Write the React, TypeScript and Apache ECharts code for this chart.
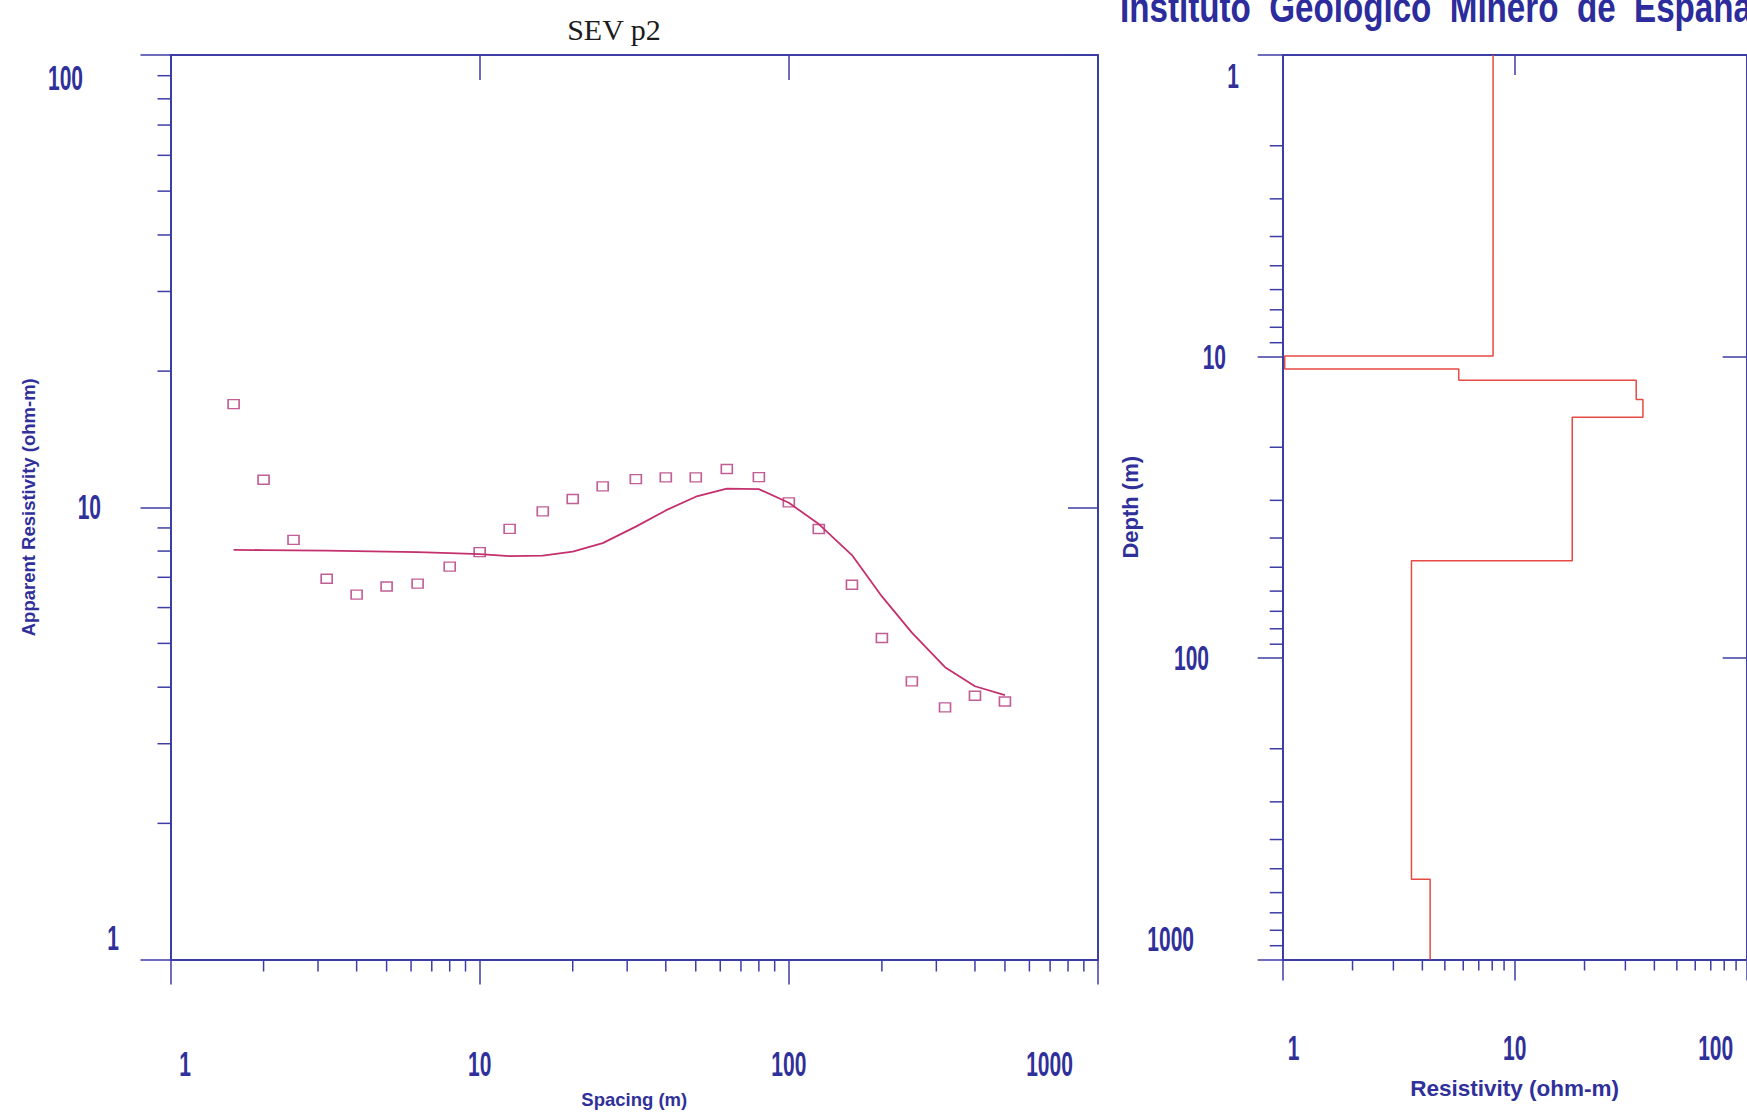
import React, { useEffect, useRef } from 'react';
import * as echarts from 'echarts';

// ---- data ----
const SPACING = [1.6, 2, 2.5, 3.2, 4, 5, 6.3, 8, 10, 12.5, 16, 20, 25, 32, 40, 50, 63, 80, 100, 125, 160, 200, 250, 320, 400, 500];
const OBSERVED = [16.9, 11.5, 8.47, 6.95, 6.41, 6.68, 6.78, 7.39, 7.96, 8.96, 9.79, 10.43, 11.12, 11.54, 11.64, 11.64, 12.15, 11.66, 10.25, 8.95, 6.74, 5.14, 4.12, 3.61, 3.83, 3.72];
const MODEL = [8.05, 8.04, 8.03, 8.02, 8.0, 7.98, 7.96, 7.92, 7.88, 7.8, 7.82, 7.98, 8.33, 9.06, 9.84, 10.55, 10.99, 10.97, 10.23, 9.18, 7.84, 6.35, 5.28, 4.43, 4.02, 3.84];

const LAYER_RES = [8.07, 1.02, 5.74, 33.4, 35.7, 17.7, 3.59, 4.32];
const LAYER_BOTTOM = [9.96, 11.0, 12.0, 13.9, 15.9, 47.6, 542];

const MINOR_1_10 = [2, 3, 4, 5, 6, 7, 8, 9];
const MINOR_10_100 = [20, 30, 40, 50, 60, 70, 80, 90];
const MINOR_100_1000 = [200, 300, 400, 500, 600, 700, 800, 900];

const SEV_X_RANGE = [1, 1000];
const SEV_Y_RANGE = [1, 100];
const RES_X_RANGE = [1, 100];
const DEPTH_RANGE = [1, 1000];

const SEV_X_LABELS = [1, 10, 100, 1000];
const SEV_Y_LABELS = [1, 10, 100];
const RES_X_LABELS = [1, 10, 100];
const DEPTH_LABELS = [1, 10, 100, 1000];

const TITLE = 'SEV p2';
const INSTITUTE = 'Instituto  Geologico  Minero  de  España';

// ---- styles ----
const AXIS = '#3d3da6';
const LABEL = '#30309a';
const SANS = "'Liberation Sans', Arial, sans-serif";
const SERIF = "'Liberation Serif', 'Times New Roman', serif";
const SQUARE = '#b3367c';
const CURVE = '#c4306e';
const STEP = '#e54a44';
const TICK_FS = 35;
const TICK_SCALE = 0.6;

// label placement tweaks (pixels relative to each tick)
const SEV_X_DX = [14.5, 0, 0, -48.5];
const SEV_X_DY = 104.5;
const SEV_Y_DX = [-51.5, -69.5, -87.5];
const SEV_Y_DY = [-21.5, 0, 23];
const RES_X_DX = [11, 0, -31];
const RES_X_DY = 88;
const DEPTH_DX = [-43.7, -56.7, -73.7, -88.7];
const DEPTH_DY = [21, 0, 0, -20.5];

function axisLineStyle() {
  return { show: true, onZero: false, lineStyle: { color: AXIS, width: 2 } };
}

function minorTickSeries(values: number[], xi: number, yi: number, dir: 'x' | 'y', len: number, otherVal: number) {
  return {
    type: 'custom',
    xAxisIndex: xi,
    yAxisIndex: yi,
    silent: true,
    clip: false,
    data: values.map((v) => (dir === 'x' ? [v, otherVal] : [otherVal, v])),
    renderItem: (params: any, api: any) => {
      const cs = params.coordSys;
      const p = api.coord([api.value(0), api.value(1)]);
      if (dir === 'x') {
        const y = cs.y + cs.height;
        return { type: 'line', shape: { x1: p[0], y1: y, x2: p[0], y2: y + len }, style: { stroke: AXIS, lineWidth: 1.5 } };
      }
      const x = cs.x;
      return { type: 'line', shape: { x1: x - len, y1: p[1], x2: x, y2: p[1] }, style: { stroke: AXIS, lineWidth: 1.5 } };
    },
  };
}

function buildSteps() {
  const pts: number[][] = [[LAYER_RES[0], DEPTH_RANGE[0]]];
  for (let i = 0; i < LAYER_BOTTOM.length; i++) {
    pts.push([LAYER_RES[i], LAYER_BOTTOM[i]]);
    pts.push([LAYER_RES[i + 1], LAYER_BOTTOM[i]]);
  }
  pts.push([LAYER_RES[LAYER_RES.length - 1], DEPTH_RANGE[1]]);
  return pts;
}

const nameStyle = (fs: number) => ({ fontFamily: SANS, fontSize: fs, fontWeight: 'bold', color: LABEL });

function tickText(text: string, x: number, y: number, align: string) {
  return {
    type: 'text',
    x,
    y,
    scaleX: TICK_SCALE,
    silent: true,
    style: {
      text,
      fill: LABEL,
      fontFamily: SANS,
      fontSize: TICK_FS,
      fontWeight: 'bold',
      align,
      verticalAlign: 'middle',
      textAlign: align,
      textVerticalAlign: 'middle',
    },
  };
}

export default function App() {
  const ref = useRef<HTMLDivElement>(null);
  useEffect(() => {
    if (!ref.current) return;
    const chart = echarts.init(ref.current, null, { renderer: 'svg' });
    const gridBase = { outerBoundsMode: 'none', containLabel: false };
    const xBottom = (gi: number, range: number[], tickLen: number, name: string, gap: number, fs: number) => ({
      gridIndex: gi, type: 'log', logBase: 10, min: range[0], max: range[1], position: 'bottom',
      axisLine: axisLineStyle(),
      axisTick: { show: true, inside: false, length: tickLen, lineStyle: { color: AXIS, width: 1.5 } },
      minorTick: { show: false }, splitLine: { show: false },
      axisLabel: { show: false },
      name, nameLocation: 'middle', nameGap: gap, nameMoveOverlap: false, nameTextStyle: nameStyle(fs),
    });
    const xTop = (gi: number, range: number[], tickLen: number) => ({
      gridIndex: gi, type: 'log', logBase: 10, min: range[0], max: range[1], position: 'top',
      axisLine: axisLineStyle(),
      axisTick: { show: true, inside: true, length: tickLen, lineStyle: { color: AXIS, width: 1.5 } },
      axisLabel: { show: false }, splitLine: { show: false },
    });
    const yLeft = (gi: number, range: number[], inverse: boolean, tickLen: number, name: string, gap: number, fs: number) => ({
      gridIndex: gi, type: 'log', logBase: 10, min: range[0], max: range[1], inverse, position: 'left',
      axisLine: axisLineStyle(),
      axisTick: { show: true, inside: false, length: tickLen, lineStyle: { color: AXIS, width: 1.5 } },
      minorTick: { show: false }, splitLine: { show: false },
      axisLabel: { show: false },
      name, nameLocation: 'middle', nameGap: gap, nameRotate: 90, nameMoveOverlap: false, nameTextStyle: nameStyle(fs),
    });
    const yRight = (gi: number, range: number[], inverse: boolean, tickLen: number) => ({
      gridIndex: gi, type: 'log', logBase: 10, min: range[0], max: range[1], inverse, position: 'right',
      axisLine: axisLineStyle(),
      axisTick: { show: true, inside: true, length: tickLen, lineStyle: { color: AXIS, width: 1.5 } },
      axisLabel: { show: false }, splitLine: { show: false },
    });

    const option: any = {
      animation: false,
      backgroundColor: '#ffffff',
      grid: [
        { ...gridBase, left: 170.5, top: 55, width: 927.5, height: 904.5 },
        { ...gridBase, left: 1282.7, top: 55, width: 464, height: 904.5 },
      ],
      xAxis: [
        xBottom(0, SEV_X_RANGE, 25, 'Spacing (m)', 130, 18.5),
        xTop(0, SEV_X_RANGE, 25),
        xBottom(1, RES_X_RANGE, 21, 'Resistivity (ohm-m)', 117, 22.5),
        xTop(1, RES_X_RANGE, 20),
      ],
      yAxis: [
        yLeft(0, SEV_Y_RANGE, false, 30, 'Apparent Resistivity (ohm-m)', 133, 18.5),
        yRight(0, SEV_Y_RANGE, false, 30),
        yLeft(1, DEPTH_RANGE, true, 25, 'Depth (m)', 141, 22),
        yRight(1, DEPTH_RANGE, true, 24),
      ],
      series: [
        minorTickSeries([...MINOR_1_10, ...MINOR_10_100, ...MINOR_100_1000], 0, 0, 'x', 12, SEV_Y_RANGE[0]),
        minorTickSeries([...MINOR_1_10, ...MINOR_10_100], 0, 0, 'y', 13, SEV_X_RANGE[0]),
        minorTickSeries([...MINOR_1_10, ...MINOR_10_100], 2, 2, 'x', 11, DEPTH_RANGE[1]),
        minorTickSeries([...MINOR_1_10, ...MINOR_10_100, ...MINOR_100_1000], 2, 2, 'y', 13, RES_X_RANGE[0]),
        {
          type: 'line', name: 'Model', xAxisIndex: 0, yAxisIndex: 0,
          data: SPACING.map((s, i) => [s, MODEL[i]]),
          showSymbol: false, symbol: 'none', smooth: false,
          lineStyle: { color: CURVE, width: 1.8 },
        },
        {
          type: 'scatter', name: 'Observed', xAxisIndex: 0, yAxisIndex: 0,
          data: SPACING.map((s, i) => [s, OBSERVED[i]]),
          symbol: 'rect', symbolSize: [11, 9],
          itemStyle: { color: 'rgba(255,255,255,0)', borderColor: SQUARE, borderWidth: 1.5 },
        },
        {
          type: 'line', name: 'Layers', xAxisIndex: 2, yAxisIndex: 2,
          data: buildSteps(),
          showSymbol: false, symbol: 'none', smooth: false,
          lineStyle: { color: STEP, width: 1.5 },
        },
      ],
    };
    chart.setOption(option);

    // tick labels placed through the axes' own scales
    const els: any[] = [];
    const px = (xi: number, yi: number, v: number[]) => chart.convertToPixel({ xAxisIndex: xi, yAxisIndex: yi }, v) as number[];
    SEV_X_LABELS.forEach((v, i) => {
      const p = px(0, 0, [v, SEV_Y_RANGE[0]]);
      els.push(tickText(String(v), p[0] + SEV_X_DX[i], p[1] + SEV_X_DY, 'center'));
    });
    SEV_Y_LABELS.forEach((v, i) => {
      const p = px(0, 0, [SEV_X_RANGE[0], v]);
      els.push(tickText(String(v), p[0] + SEV_Y_DX[i], p[1] + SEV_Y_DY[i], 'right'));
    });
    RES_X_LABELS.forEach((v, i) => {
      const p = px(2, 2, [v, DEPTH_RANGE[1]]);
      els.push(tickText(String(v), p[0] + RES_X_DX[i], p[1] + RES_X_DY, 'center'));
    });
    DEPTH_LABELS.forEach((v, i) => {
      const p = px(2, 2, [RES_X_RANGE[0], v]);
      els.push(tickText(String(v), p[0] + DEPTH_DX[i], p[1] + DEPTH_DY[i], 'right'));
    });
    els.push({
      type: 'text', x: 614, y: 29, silent: true,
      style: {
        text: TITLE, fill: '#1c1c1c', fontFamily: SERIF, fontSize: 30, fontWeight: 'normal',
        align: 'center', verticalAlign: 'middle', textAlign: 'center', textVerticalAlign: 'middle',
      },
    });
    els.push({
      type: 'text', x: 1120, y: 7.5, scaleX: 0.79, silent: true,
      style: {
        text: INSTITUTE, fill: '#2c2c9c', fontFamily: SANS, fontSize: 42, fontWeight: 'bold',
        align: 'left', verticalAlign: 'middle', textAlign: 'left', textVerticalAlign: 'middle',
      },
    });
    chart.setOption({ graphic: { elements: els } });

    return () => chart.dispose();
  }, []);
  return (
    <div
      ref={ref}
      style={{ position: 'fixed', left: 0, top: 0, width: 1747, height: 1117, background: '#fff' }}
    />
  );
}
